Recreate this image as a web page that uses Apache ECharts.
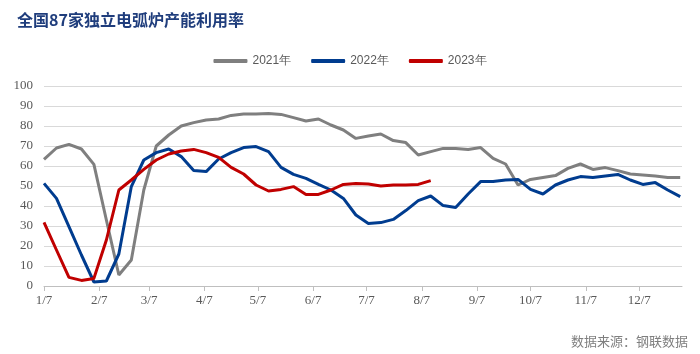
<!DOCTYPE html>
<html>
<head>
<meta charset="utf-8">
<script src="https://cdn.jsdelivr.net/npm/echarts@6/dist/echarts.min.js"></script>
<style>
    html, body { margin: 0; padding: 0; background: #fff; }
    #chart { width: 700px; height: 354px; }
</style>
</head>
<body>
<div id="chart"></div>
<script>
// 周度数据，第 i 周 = 1月7日 + 7*i 天
const y2021 = [63.3, 69, 70.8, 68.5, 60.8, 33, 5.5, 13, 48, 70, 75.5, 80, 81.7, 83, 83.5, 85.3, 86, 86, 86.3, 85.8,
    84.2, 82.5, 83.5, 80.5, 78, 73.8, 75, 76, 72.7, 71.7, 65.5, 67.2, 68.8, 68.8, 68.3, 69.2, 63.8, 61, 50.5, 53.3,
    54.3, 55.2, 58.8, 61, 58.3, 59.2, 57.7, 56, 55.5, 55, 54.2, 54.2];
const y2022 = [51.3, 43.8, 29.7, 15.5, 2, 2.5, 16, 49.7, 63, 66.7, 68.5, 64.7, 57.7, 57.2, 63.5, 66.7, 69.2, 69.7, 67.2, 59.3,
    55.8, 53.8, 50.8, 48, 43.8, 35.5, 31.3, 31.7, 33.3, 37.7, 42.7, 45, 40.2, 39.3, 46, 52.2, 52.2, 53, 53.3, 48.3,
    46, 50.5, 53, 54.7, 54.2, 55, 55.8, 53, 50.8, 51.7, 48, 44.7];
const y2023 = [31.8, 18, 4.3, 2.8, 3.8, 23, 48, 53, 58.3, 63, 66, 67.5, 68.3, 66.7, 64.3, 59.3, 56, 50.5, 47.5, 48.3,
    49.7, 45.8, 45.8, 48, 50.8, 51.3, 51, 50, 50.5, 50.5, 50.8, 52.7];
const seriesNames = ['2021年', '2022年', '2023年'];
// 每月7日距1月7日的天数
const monthDays = [0, 31, 59, 90, 120, 151, 181, 212, 243, 273, 304, 334];
const monthLabels = ['1/7', '2/7', '3/7', '4/7', '5/7', '6/7', '7/7', '8/7', '9/7', '10/7', '11/7', '12/7'];

const toPoints = arr => arr.map((v, i) => [i * 7, v]);

const chart = echarts.init(document.getElementById('chart'));
const colors = ['#7F7F7F', '#003C8F', '#C00000'];

const option = {
    animation: false,
    color: colors,
    title: {
        text: '全国87家独立电弧炉产能利用率',
        left: 12,
        top: 7,
        textStyle: {
            color: '#1F3D7C',
            fontSize: 16,
            fontWeight: 'bold',
            fontFamily: 'Noto Sans CJK SC'
        }
    },
    legend: {
        data: seriesNames,
        left: 'center',
        top: 50,
        icon: 'roundRect',
        itemWidth: 34,
        itemHeight: 4,
        itemGap: 20,
        textStyle: {
            color: '#595959',
            fontSize: 12,
            fontFamily: 'Liberation Sans'
        }
    },
    grid: {
        left: 44,
        right: 18,
        top: 86,
        bottom: 68
    },
    xAxis: {
        type: 'value',
        min: 0,
        max: 358,
        axisLine: {
            lineStyle: { color: '#BFBFBF', width: 1 }
        },
        axisTick: {
            show: true,
            customValues: monthDays,
            length: 5,
            lineStyle: { color: '#BFBFBF' }
        },
        axisLabel: {
            customValues: monthDays,
            formatter: v => monthLabels[monthDays.indexOf(v)] || '',
            color: '#595959',
            fontSize: 13,
            fontFamily: 'Liberation Serif',
            margin: 8
        },
        splitLine: { show: false }
    },
    yAxis: {
        type: 'value',
        min: 0,
        max: 100,
        interval: 10,
        axisLine: { show: false },
        axisTick: { show: false },
        axisLabel: {
            color: '#595959',
            fontSize: 13,
            fontFamily: 'Liberation Serif',
            margin: 11
        },
        splitLine: {
            lineStyle: { color: '#D9D9D9', width: 1 }
        }
    },
    series: [
        { name: seriesNames[0], type: 'line', data: toPoints(y2021) },
        { name: seriesNames[1], type: 'line', data: toPoints(y2022) },
        { name: seriesNames[2], type: 'line', data: toPoints(y2023) }
    ].map(s => Object.assign(s, {
        showSymbol: false,
        symbol: 'none',
        lineStyle: { width: 3 }
    })),
    graphic: [{
        type: 'text',
        right: 12,
        bottom: 6,
        style: {
            text: '数据来源：钢联数据',
            fill: '#7F7F7F',
            fontSize: 13,
            fontFamily: 'Noto Sans CJK SC'
        }
    }]
};
chart.setOption(option);
</script>
</body>
</html>
